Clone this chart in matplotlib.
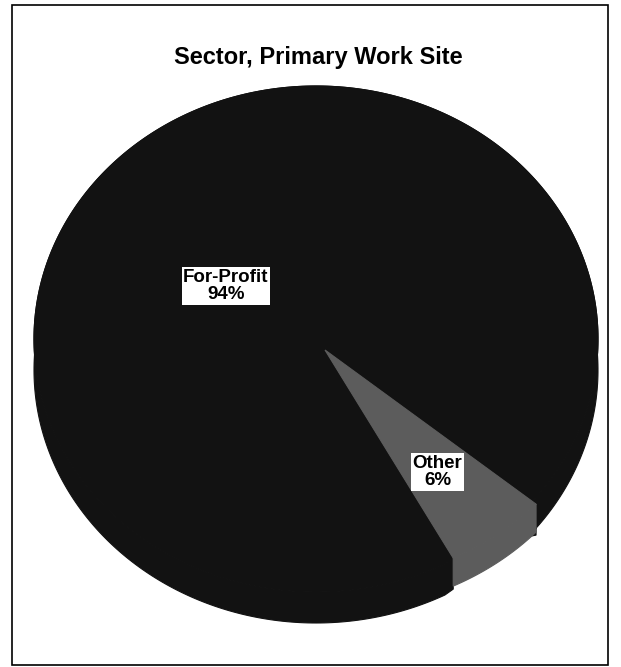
import numpy as np
import matplotlib
matplotlib.use("Agg")
import matplotlib.pyplot as plt
from matplotlib.patches import Polygon, Rectangle

# ---- data -------------------------------------------------------------
sectors = ["For-Profit", "Other"]
shares = [94, 6]
slice_colors = ["#121212", "#5c5c5c"]
title = "Sector, Primary Work Site"

# ---- layout (pixel space, y grows downward) ----------------------------
W, H = 621, 667
START_ANGLE = -41.2          # where the first slice begins (deg, counter-clockwise)
# per-slice 3-D ellipse: centre x, centre y, half-width, half-height, wall depth
slice_geom = [(316, 339, 282, 253, 31),
              (325, 350, 280.5, 234, 28)]
label_pos = [(226, 286), (437.5, 472)]

fig = plt.figure(figsize=(W / 100, H / 100), dpi=100)
ax = fig.add_axes([0, 0, 1, 1])
ax.set_xlim(0, W)
ax.set_ylim(H, 0)
ax.axis("off")


def rim(geom, theta_deg):
    cx, cy, a, b, _ = geom
    t = np.radians(np.atleast_1d(theta_deg))
    return np.column_stack([cx + a * np.cos(t), cy - b * np.sin(t)])


total = float(sum(shares))
cuts = START_ANGLE + np.concatenate([[0], np.cumsum(shares)]) / total * 360.0
edge_geom = slice_geom[1]
apex = np.array(edge_geom[:2], dtype=float)


def outline(i):
    """Rim of slice i, closed off at the shared cut points."""
    g = slice_geom[i]
    th = np.linspace(cuts[i], cuts[i + 1], 400)
    return np.vstack([rim(edge_geom, cuts[i]), rim(g, th), rim(edge_geom, cuts[i + 1])])


# side walls first, then the top faces
for i, color in enumerate(slice_colors):
    top = outline(i)
    bottom = top + np.array([0, slice_geom[i][4]])
    wall = np.vstack([top, bottom[::-1]])
    ax.add_patch(Polygon(wall, closed=True, fc=color, ec=color, lw=0.8,
                         zorder=2 + 2 * i))

for i, color in enumerate(slice_colors):
    face = np.vstack([apex[None, :], outline(i)])
    ax.add_patch(Polygon(face, closed=True, fc=color, ec=color, lw=0.8,
                         zorder=3 + 2 * i))

# data labels
for name, val, (lx, ly) in zip(sectors, shares, label_pos):
    ax.text(lx, ly, f"{name}\n{val}%", ha="center", va="center",
            fontsize=13.5, fontweight="bold", family="Liberation Sans",
            linespacing=1.05, color="black", zorder=10,
            bbox=dict(boxstyle="square,pad=0.08", fc="white", ec="none"))

# title
ax.text(318, 64, title, ha="center", va="baseline", fontsize=17,
        fontweight="bold", family="Liberation Sans", color="black", zorder=10)

# chart frame
ax.add_patch(Rectangle((12, 5), 596, 660, fill=False, ec="black", lw=1.2, zorder=11))

fig.savefig("out.png", dpi=100)
